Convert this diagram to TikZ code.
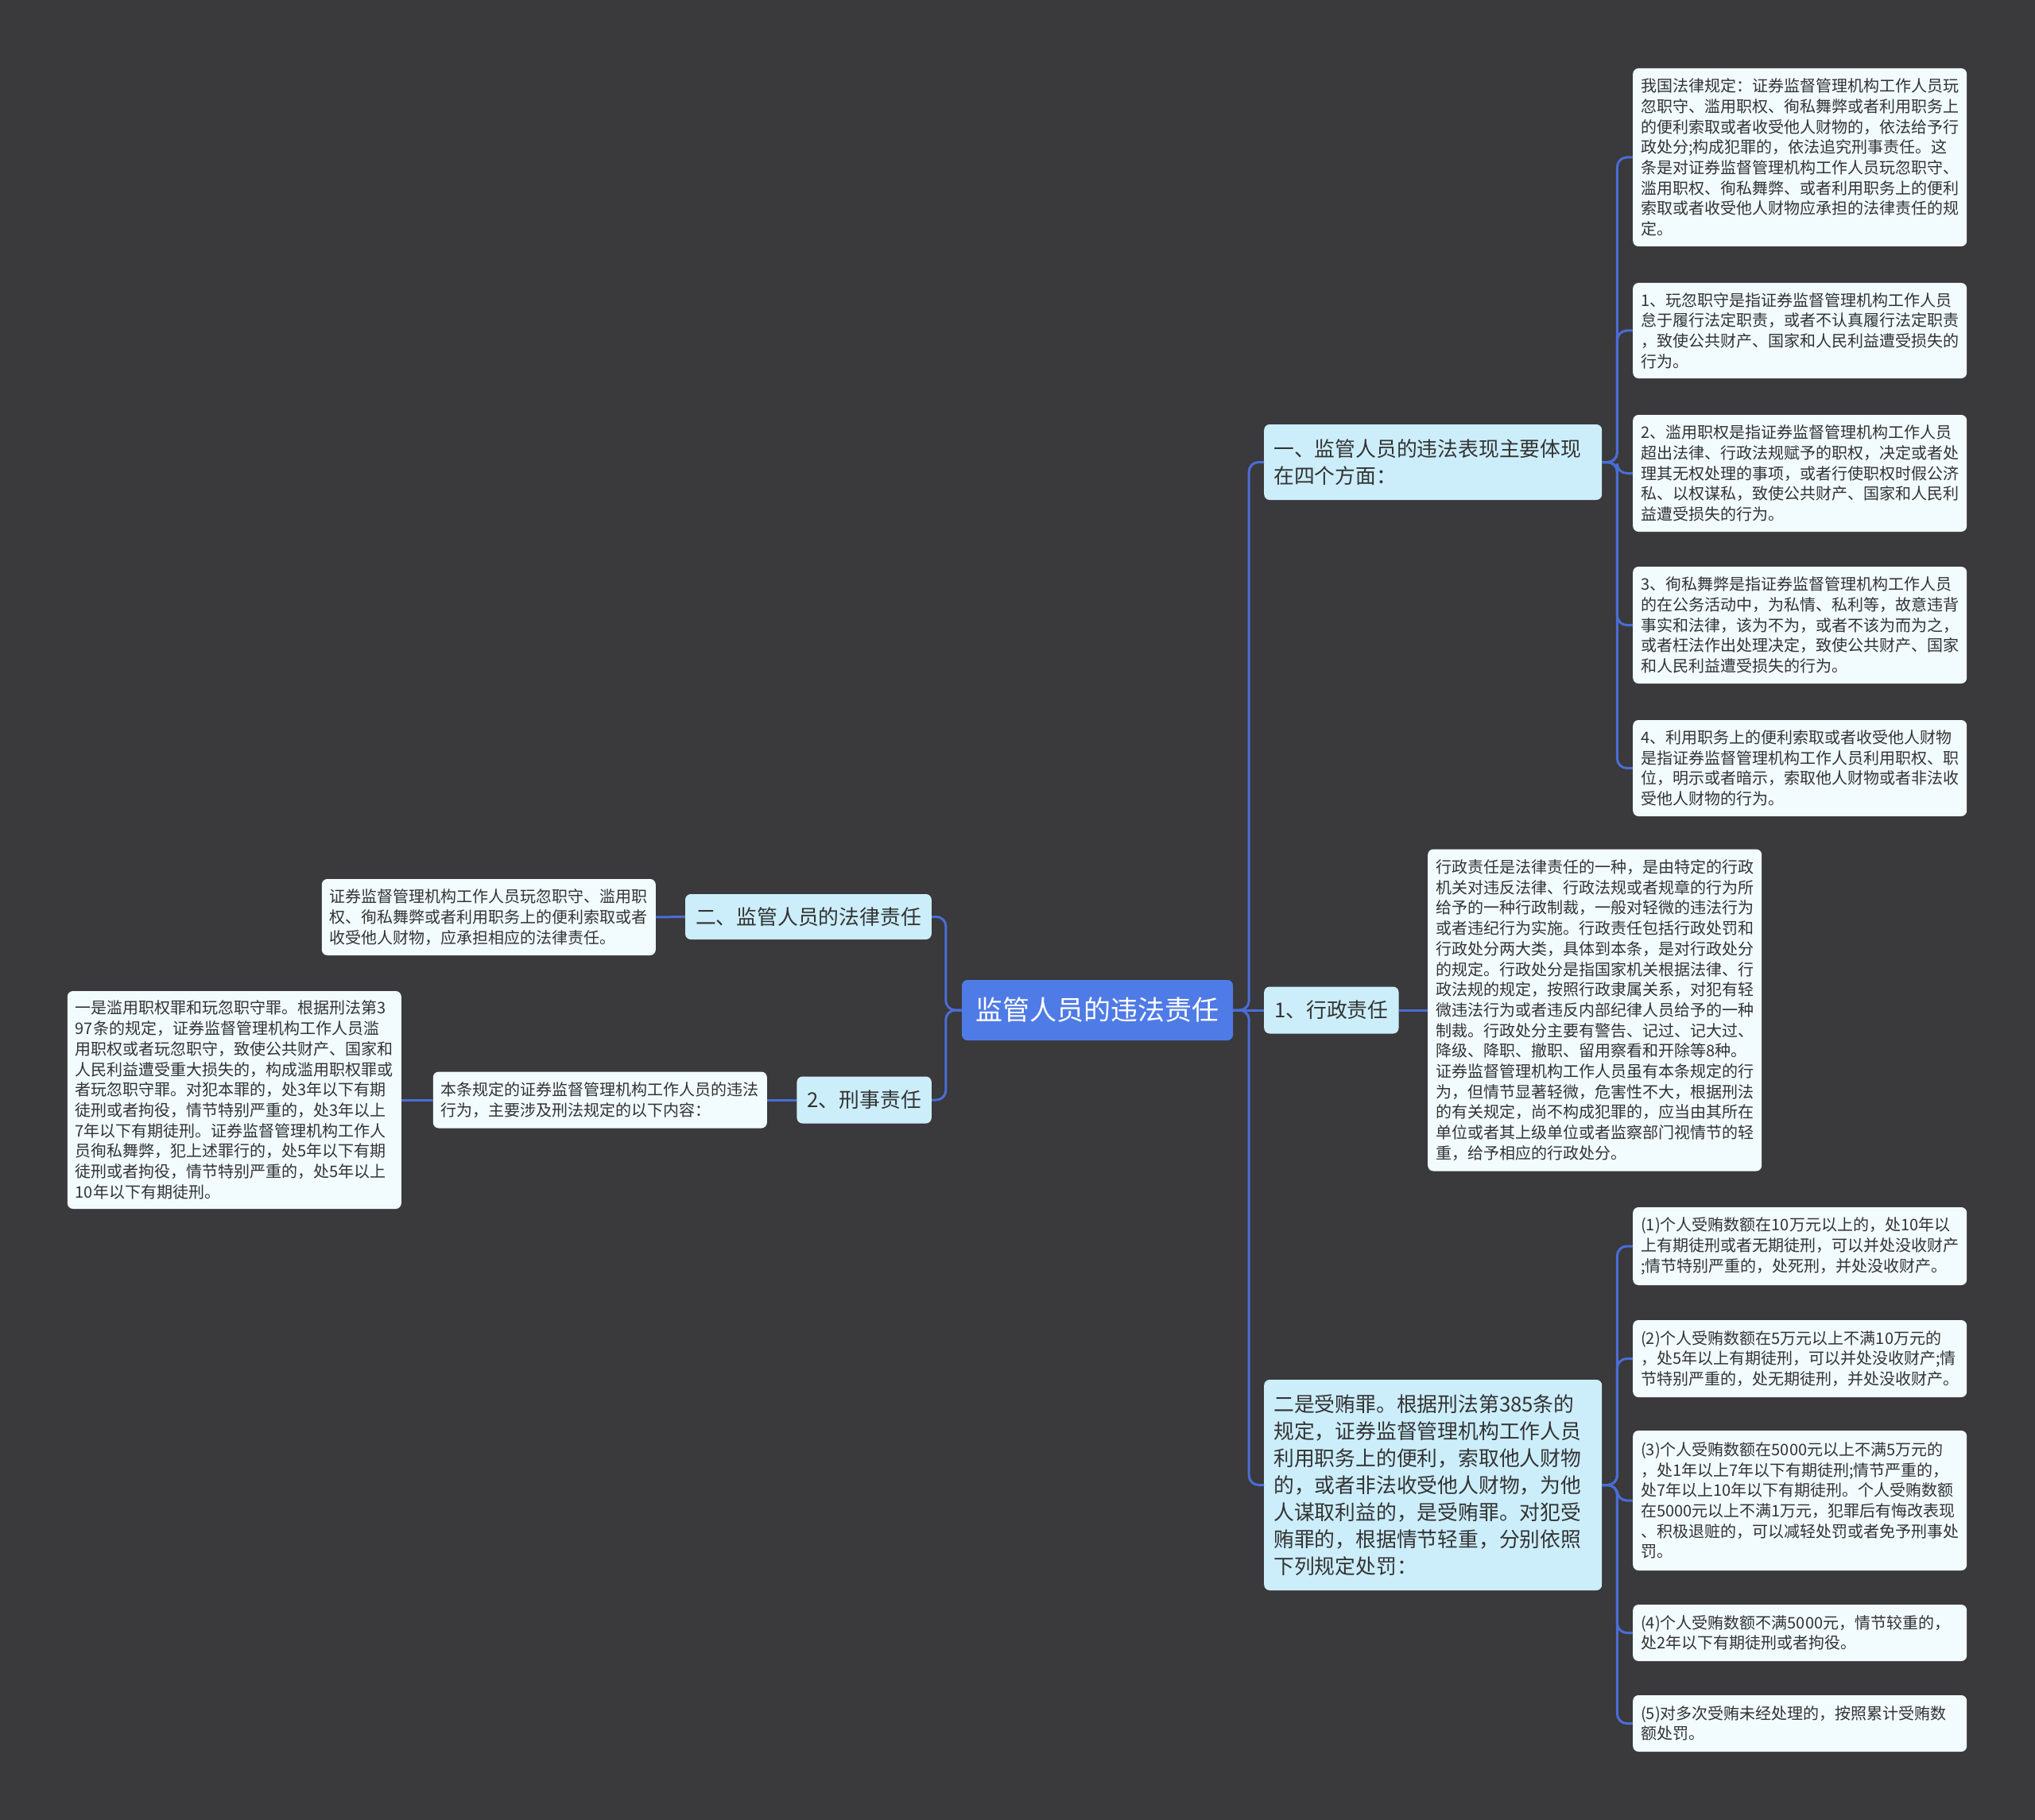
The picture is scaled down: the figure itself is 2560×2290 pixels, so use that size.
\documentclass[tikz,border=0pt]{standalone}
\usepackage{fontspec}
\setmainfont{Noto Sans CJK SC}
\definecolor{bgc}{HTML}{3A393B}
\definecolor{rootc}{HTML}{4F7BE6}
\definecolor{topicc}{HTML}{CCEEFB}
\definecolor{leafc}{HTML}{F2FBFE}
\definecolor{linkc}{HTML}{4A6DD6}
\definecolor{inkc}{HTML}{333333}
\begin{document}
\begin{tikzpicture}[x=1pt, y=-1pt,
  rootnode/.style={fill=rootc, text=white, rounded corners=7pt, minimum width=341pt, minimum height=76pt, font=\fontsize{34pt}{42pt}\selectfont},
  topic/.style={fill=topicc, text=inkc, rounded corners=7pt, inner xsep=13pt, inner ysep=4pt, align=left, font=\fontsize{25.8pt}{34pt}\selectfont},
  wide/.style={text width=401pt, inner xsep=12pt},
  leaf/.style={fill=leafc, text=inkc, rounded corners=7pt, text width=400pt, inner xsep=10pt, inner ysep=4pt, align=left, font=\fontsize{20pt}{25.7pt}\selectfont},
  link/.style={draw=linkc, line width=3pt, rounded corners=12pt}]
\useasboundingbox[fill=bgc] (0,0) rectangle (2560,2290);

\node[rootnode] (root) at (1380.5,1271) {监管人员的违法责任};

\node[topic, wide, anchor=west, minimum height=95pt] (law) at (1590,581.5) {一、监管人员的违法表现主要体现\\在四个方面：};
\node[topic, anchor=west, minimum height=59pt] (admin) at (1590,1271) {1、行政责任};
\node[topic, wide, anchor=west, minimum height=265pt] (bribe) at (1590,1868.5) {二是受贿罪。根据刑法第385条的\\规定，证券监督管理机构工作人员\\利用职务上的便利，索取他人财物\\的，或者非法收受他人财物，为他\\人谋取利益的，是受贿罪。对犯受\\贿罪的，根据情节轻重，分别依照\\下列规定处罚：};
\node[topic, anchor=east, minimum height=57pt] (duty) at (1172,1153.5) {二、监管人员的法律责任};
\node[topic, anchor=east, minimum height=59pt] (crime) at (1172,1384) {2、刑事责任};

\node[leaf, anchor=west, minimum height=224pt] (rule) at (2054,198) {我国法律规定：证券监督管理机构工作人员玩\\忽职守、滥用职权、徇私舞弊或者利用职务上\\的便利索取或者收受他人财物的，依法给予行\\政处分;构成犯罪的，依法追究刑事责任。这\\条是对证券监督管理机构工作人员玩忽职守、\\滥用职权、徇私舞弊、或者利用职务上的便利\\索取或者收受他人财物应承担的法律责任的规\\定。};
\node[leaf, anchor=west, minimum height=120pt] (neglect) at (2054,416) {1、玩忽职守是指证券监督管理机构工作人员\\怠于履行法定职责，或者不认真履行法定职责\\，致使公共财产、国家和人民利益遭受损失的\\行为。};
\node[leaf, anchor=west, minimum height=147pt] (abuse) at (2054,595.5) {2、滥用职权是指证券监督管理机构工作人员\\超出法律、行政法规赋予的职权，决定或者处\\理其无权处理的事项，或者行使职权时假公济\\私、以权谋私，致使公共财产、国家和人民利\\益遭受损失的行为。};
\node[leaf, anchor=west, minimum height=147pt] (favor) at (2054,786.5) {3、徇私舞弊是指证券监督管理机构工作人员\\的在公务活动中，为私情、私利等，故意违背\\事实和法律，该为不为，或者不该为而为之，\\或者枉法作出处理决定，致使公共财产、国家\\和人民利益遭受损失的行为。};
\node[leaf, anchor=west, minimum height=121pt] (take) at (2054,966.5) {4、利用职务上的便利索取或者收受他人财物\\是指证券监督管理机构工作人员利用职权、职\\位，明示或者暗示，索取他人财物或者非法收\\受他人财物的行为。};

\node[leaf, anchor=west, minimum height=405pt] (sanction) at (1796,1271) {行政责任是法律责任的一种，是由特定的行政\\机关对违反法律、行政法规或者规章的行为所\\给予的一种行政制裁，一般对轻微的违法行为\\或者违纪行为实施。行政责任包括行政处罚和\\行政处分两大类，具体到本条，是对行政处分\\的规定。行政处分是指国家机关根据法律、行\\政法规的规定，按照行政隶属关系，对犯有轻\\微违法行为或者违反内部纪律人员给予的一种\\制裁。行政处分主要有警告、记过、记大过、\\降级、降职、撤职、留用察看和开除等8种。\\证券监督管理机构工作人员虽有本条规定的行\\为，但情节显著轻微，危害性不大，根据刑法\\的有关规定，尚不构成犯罪的，应当由其所在\\单位或者其上级单位或者监察部门视情节的轻\\重，给予相应的行政处分。};

\node[leaf, anchor=west, minimum height=98pt] (p1) at (2054,1568) {(1)个人受贿数额在10万元以上的，处10年以\\上有期徒刑或者无期徒刑，可以并处没收财产\\;情节特别严重的，处死刑，并处没收财产。};
\node[leaf, anchor=west, minimum height=97pt] (p2) at (2054,1709.5) {(2)个人受贿数额在5万元以上不满10万元的\\，处5年以上有期徒刑，可以并处没收财产;情\\节特别严重的，处无期徒刑，并处没收财产。};
\node[leaf, anchor=west, minimum height=176pt] (p3) at (2054,1888) {(3)个人受贿数额在5000元以上不满5万元的\\，处1年以上7年以下有期徒刑;情节严重的，\\处7年以上10年以下有期徒刑。个人受贿数额\\在5000元以上不满1万元，犯罪后有悔改表现\\、积极退赃的，可以减轻处罚或者免予刑事处\\罚。};
\node[leaf, anchor=west, minimum height=71pt] (p4) at (2054,2054.5) {(4)个人受贿数额不满5000元，情节较重的，\\处2年以下有期徒刑或者拘役。};
\node[leaf, anchor=west, minimum height=71pt] (p5) at (2054,2168.5) {(5)对多次受贿未经处理的，按照累计受贿数\\额处罚。};

\node[leaf, anchor=east, minimum height=96pt] (bear) at (825,1154) {证券监督管理机构工作人员玩忽职守、滥用职\\权、徇私舞弊或者利用职务上的便利索取或者\\收受他人财物，应承担相应的法律责任。};
\node[leaf, anchor=east, minimum height=71pt] (scope) at (965,1384) {本条规定的证券监督管理机构工作人员的违法\\行为，主要涉及刑法规定的以下内容：};
\node[leaf, anchor=east, minimum height=274pt] (misuse) at (505,1384) {一是滥用职权罪和玩忽职守罪。根据刑法第3\\97条的规定，证券监督管理机构工作人员滥\\用职权或者玩忽职守，致使公共财产、国家和\\人民利益遭受重大损失的，构成滥用职权罪或\\者玩忽职守罪。对犯本罪的，处3年以下有期\\徒刑或者拘役，情节特别严重的，处3年以上\\7年以下有期徒刑。证券监督管理机构工作人\\员徇私舞弊，犯上述罪行的，处5年以下有期\\徒刑或者拘役，情节特别严重的，处5年以上\\10年以下有期徒刑。};

\draw[link] (root.east) -- ++(20,0) |- (law.west);
\draw[link] (root.east) -- (admin.west);
\draw[link] (root.east) -- ++(20,0) |- (bribe.west);
\draw[link] (root.west) -- ++(-20,0) |- (duty.east);
\draw[link] (root.west) -- ++(-20,0) |- (crime.east);

\draw[link] (law.east) -- ++(19,0) |- (rule.west);
\draw[link] (law.east) -- ++(19,0) |- (neglect.west);
\draw[link] (law.east) -- ++(19,0) |- (abuse.west);
\draw[link] (law.east) -- ++(19,0) |- (favor.west);
\draw[link] (law.east) -- ++(19,0) |- (take.west);
\draw[link] (admin.east) -- (sanction.west);
\draw[link] (bribe.east) -- ++(19,0) |- (p1.west);
\draw[link] (bribe.east) -- ++(19,0) |- (p2.west);
\draw[link] (bribe.east) -- ++(19,0) |- (p3.west);
\draw[link] (bribe.east) -- ++(19,0) |- (p4.west);
\draw[link] (bribe.east) -- ++(19,0) |- (p5.west);
\draw[link] (duty.west) -- (bear.east);
\draw[link] (crime.west) -- (scope.east);
\draw[link] (scope.west) -- (misuse.east);
\end{tikzpicture}
\end{document}
